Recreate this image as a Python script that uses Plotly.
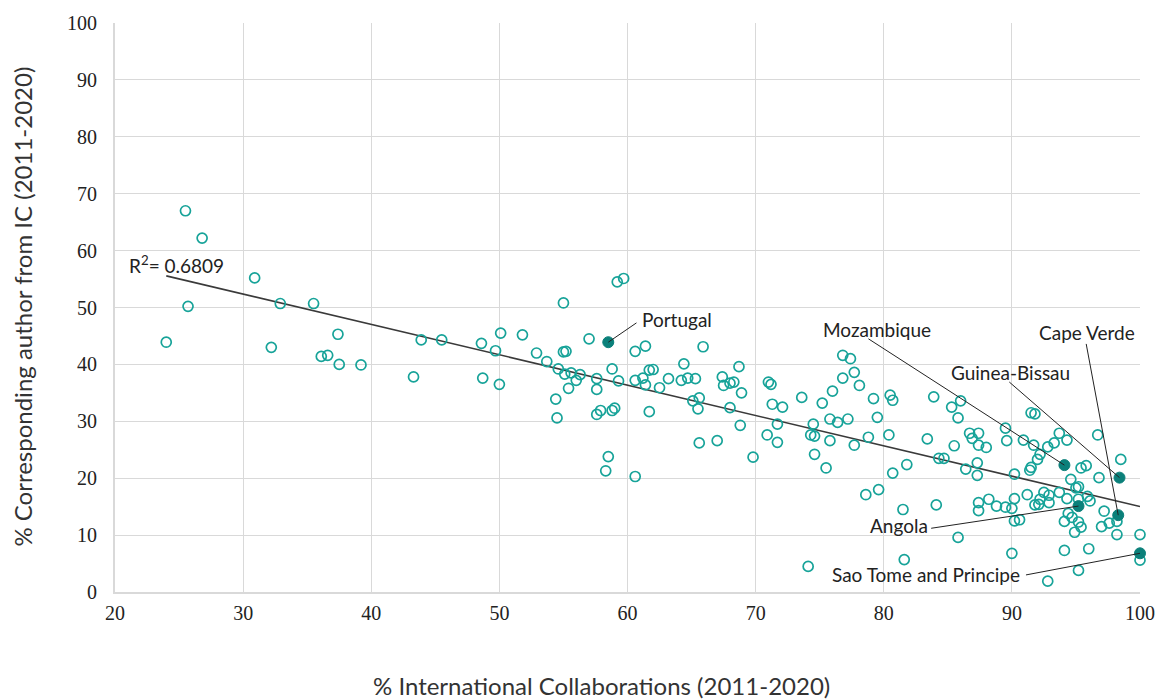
import numpy as np
import plotly.graph_objects as go

# Open-circle countries: % international collaborations (x) vs % corresponding author from IC (y)
x_vals = [25.5, 26.8, 25.7, 24.0, 30.9, 32.9, 32.2, 35.5, 36.1, 36.6, 37.4, 37.5, 39.2,
          43.9, 45.5, 43.3, 48.6, 49.7, 50.1, 48.7, 50.0, 51.8, 52.9, 53.7, 55.0, 55.0,
          55.2, 54.6, 55.1, 55.6, 56.3, 56.0, 55.4, 54.4, 54.5, 57.0, 57.6, 57.6, 57.6,
          57.9, 58.8, 59.0, 58.8, 59.3, 58.5, 58.3, 60.6, 60.6, 61.4, 60.6, 61.2, 61.4,
          61.7, 62.0, 62.5, 61.7, 63.2, 64.2, 64.4, 59.2, 59.7, 65.9, 64.7, 65.3, 65.1,
          65.6, 65.5, 65.6, 67.0, 67.4, 67.5, 68.0, 68.3, 68.7, 68.9, 68.0, 68.8, 69.8,
          71.0, 71.2, 71.3, 72.1, 71.7, 70.9, 71.7, 73.6, 75.2, 76.0, 74.5, 74.3, 74.6,
          74.6, 75.5, 75.8, 75.8, 76.4, 77.2, 76.8, 77.4, 77.7, 76.8, 78.1, 79.2, 80.5,
          80.7, 79.5, 78.8, 77.7, 80.4, 80.7, 81.8, 78.6, 79.6, 81.5, 83.4, 74.1, 81.6,
          83.9, 85.5, 84.3, 84.7, 84.1, 85.8, 85.3, 86.0, 85.8, 86.7, 87.4, 86.9, 87.4,
          88.0, 87.3, 86.4, 87.3, 87.4, 87.4, 88.2, 88.8, 89.5, 90.0, 90.2, 90.2, 90.6,
          90.0, 92.8, 89.5, 89.6, 90.2, 91.5, 91.8, 90.9, 91.7, 92.2, 92.0, 91.5, 91.4,
          92.8, 93.3, 93.7, 94.3, 91.2, 91.8, 92.1, 92.2, 92.5, 92.9, 92.9, 93.7, 94.3,
          94.6, 95.0, 95.2, 95.2, 96.1, 95.9, 94.4, 94.7, 94.1, 95.2, 95.4, 94.9, 95.4,
          95.8, 96.8, 96.7, 98.5, 97.2, 97.6, 97.0, 98.2, 98.2, 100.0, 100.0, 94.1, 96.0,
          95.2]
y_vals = [67.0, 62.2, 50.2, 43.9, 55.2, 50.7, 43.0, 50.7, 41.4, 41.6, 45.3, 40.0, 39.9,
          44.3, 44.3, 37.8, 43.7, 42.4, 45.5, 37.6, 36.5, 45.2, 42.0, 40.5, 50.8, 42.2,
          42.3, 39.2, 38.3, 38.5, 38.2, 37.2, 35.8, 33.9, 30.6, 44.5, 37.5, 35.6, 31.2,
          31.9, 31.9, 32.3, 39.2, 37.1, 23.8, 21.3, 20.3, 42.3, 43.2, 37.2, 37.6, 36.4,
          39.0, 39.1, 35.9, 31.7, 37.5, 37.2, 40.1, 54.5, 55.1, 43.1, 37.6, 37.5, 33.6,
          34.1, 32.2, 26.2, 26.6, 37.8, 36.3, 36.7, 36.9, 39.6, 35.0, 32.4, 29.3, 23.7,
          36.9, 36.5, 33.0, 32.5, 29.5, 27.6, 26.3, 34.2, 33.2, 35.3, 29.5, 27.6, 27.4,
          24.2, 21.8, 26.6, 30.4, 29.8, 30.4, 41.6, 41.0, 38.6, 37.6, 36.3, 34.0, 34.6,
          33.7, 30.7, 27.2, 25.8, 27.6, 20.9, 22.4, 17.1, 18.0, 14.5, 26.9, 4.5, 5.7,
          34.3, 25.7, 23.5, 23.5, 15.3, 9.6, 32.5, 33.6, 30.6, 27.9, 27.9, 27.0, 25.8,
          25.4, 22.7, 21.6, 20.5, 15.7, 14.3, 16.3, 15.1, 14.9, 14.7, 16.4, 12.5, 12.7,
          6.8, 1.9, 28.8, 26.6, 20.7, 31.5, 31.3, 26.7, 25.8, 24.2, 23.3, 21.9, 21.4,
          25.5, 26.2, 27.9, 26.7, 17.1, 15.3, 15.4, 16.3, 17.5, 17.0, 15.7, 17.5, 16.4,
          19.8, 18.3, 18.5, 16.3, 16.0, 16.8, 13.8, 13.1, 12.4, 12.3, 11.4, 10.5, 21.8,
          22.2, 20.1, 27.6, 23.3, 14.2, 12.1, 11.5, 12.4, 10.1, 10.1, 5.6, 7.3, 7.6,
          3.8]

# Highlighted Portuguese-speaking countries
hl_names = ["Portugal", "Mozambique", "Guinea-Bissau", "Cape Verde", "Angola", "Sao Tome and Principe"]
hl_x = [58.5, 94.1, 98.4, 98.3, 95.2, 100.0]
hl_y = [43.9, 22.3, 20.1, 13.5, 15.1, 6.8]

# Label placement (data coords): text anchor and leader-line start
lab_x = [61.0, 79.5, 89.9, 95.9, 83.6, 90.8]
lab_y = [47.9, 46.2, 38.6, 45.6, 11.7, 3.0]
lab_xanchor = ["left", "center", "center", "center", "right", "right"]
line_x0 = [60.7, 78.8, 89.8, 95.8, 83.7, 91.1]
line_y0 = [47.3, 44.5, 36.9, 43.6, 11.2, 3.0]

r2_text = "R<sup>2</sup>= 0.6809"

TEAL = "#17a399"
DARK_TEAL = "#0b807a"
GRID = "#d9d9d9"

all_x = np.array(x_vals + hl_x)
all_y = np.array(y_vals + hl_y)
slope, intercept = np.polyfit(all_x, all_y, 1)
fx = np.array([all_x.min(), all_x.max()])
fy = slope * fx + intercept

fig = go.Figure()
fig.add_trace(go.Scatter(x=fx, y=fy, mode="lines",
                         line=dict(color="#3a3a3a", width=1.6),
                         hoverinfo="skip", showlegend=False))
fig.add_trace(go.Scatter(x=x_vals, y=y_vals, mode="markers",
                         marker=dict(symbol="circle-open", size=10, color=TEAL,
                                     line=dict(width=1.7, color=TEAL)),
                         cliponaxis=False, showlegend=False))
fig.add_trace(go.Scatter(x=hl_x, y=hl_y, mode="markers", text=hl_names,
                         marker=dict(symbol="circle", size=11, color=DARK_TEAL,
                                     line=dict(width=1, color=DARK_TEAL)),
                         cliponaxis=False, showlegend=False))

shapes = []
annotations = []
for i, name in enumerate(hl_names):
    shapes.append(dict(type="line", xref="x", yref="y",
                       x0=line_x0[i], y0=line_y0[i], x1=hl_x[i], y1=hl_y[i],
                       line=dict(color="#222222", width=1)))
    annotations.append(dict(x=lab_x[i], y=lab_y[i], xref="x", yref="y",
                            text=name, showarrow=False, xanchor=lab_xanchor[i],
                            yanchor="middle",
                            font=dict(family="Lato", size=19, color="#222222")))

annotations.append(dict(x=20.9, y=57.6, xref="x", yref="y", text=r2_text,
                        showarrow=False, xanchor="left", yanchor="middle",
                        font=dict(family="Lato", size=19, color="#222222")))
annotations.append(dict(x=0.475, y=-0.164, xref="paper", yref="paper",
                        text="% International Collaborations (2011-2020)",
                        showarrow=False, xanchor="center", yanchor="middle",
                        font=dict(family="Lato", size=24, color="#333333")))
annotations.append(dict(x=-0.0905, y=0.502, xref="paper", yref="paper",
                        text="% Corresponding author from IC (2011-2020)",
                        textangle=-90, showarrow=False, xanchor="center", yanchor="middle",
                        font=dict(family="Lato", size=24, color="#333333")))

fig.update_layout(
    width=1167, height=700,
    margin=dict(l=115, r=24, t=20, b=108),
    paper_bgcolor="white", plot_bgcolor="white",
    shapes=shapes, annotations=annotations,
    xaxis=dict(range=[20, 100], dtick=10, tick0=20, showgrid=True, gridcolor=GRID,
               gridwidth=1, zeroline=False, showline=True, linecolor=GRID, linewidth=2,
               ticks="", ticklabelstandoff=2,
               tickfont=dict(family="Liberation Serif", size=20, color="#222222")),
    yaxis=dict(range=[0, 100], dtick=10, tick0=0, showgrid=True, gridcolor=GRID,
               gridwidth=1, zeroline=False, showline=True, linecolor=GRID, linewidth=2,
               ticks="", ticklabelstandoff=12,
               tickfont=dict(family="Liberation Serif", size=20, color="#222222")),
    font=dict(family="Lato"),
)

# remove the default page margin so the 1167x700 figure fills the window exactly
fig.write_html("out.html", config={"displayModeBar": False},
               post_script="document.body.style.margin='0';document.body.style.overflow='hidden';")
